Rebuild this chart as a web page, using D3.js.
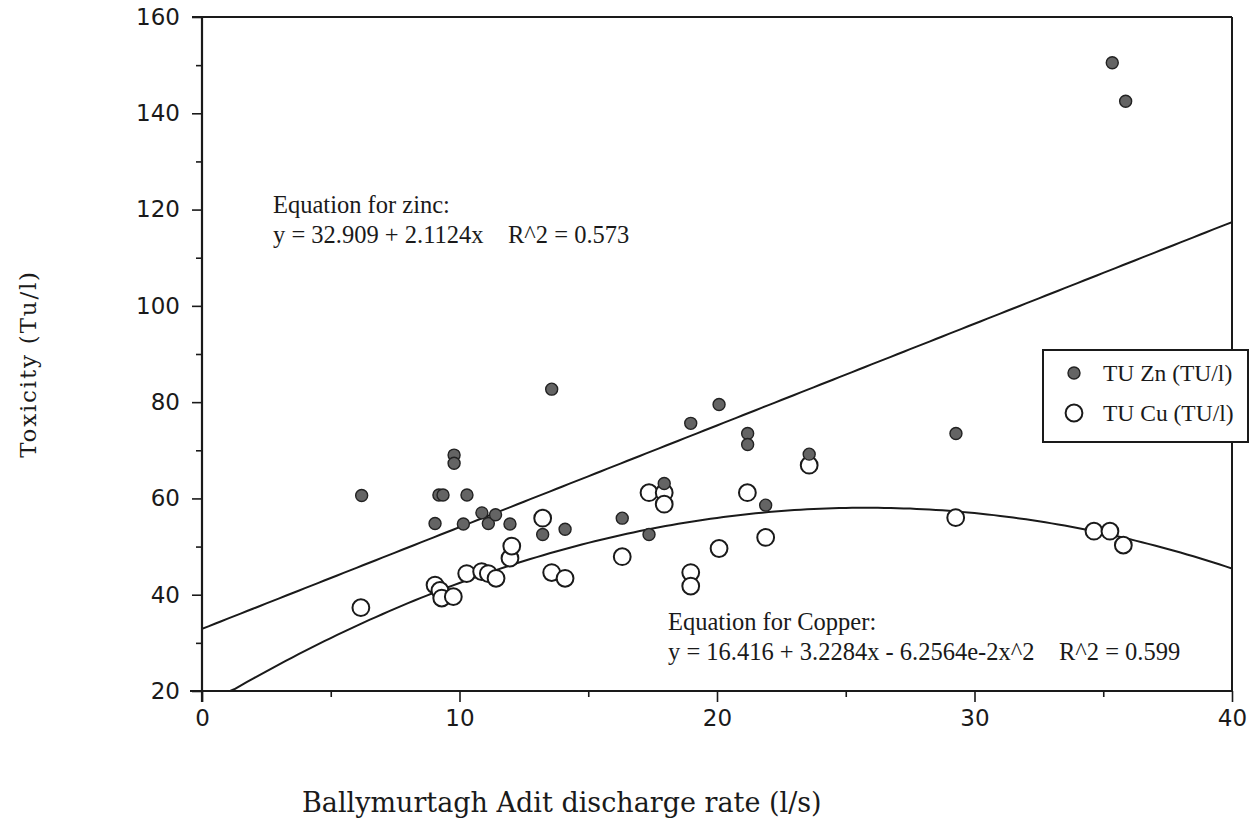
<!DOCTYPE html>
<html><head><meta charset="utf-8">
<script src="https://cdn.jsdelivr.net/npm/d3@7"></script>
<style>body{margin:0;background:#fff}svg{display:block}</style>
</head><body>
<svg id="c" width="1254" height="825"></svg>
<script>
// ---- data ----
const znX = [6.20, 9.05, 9.20, 9.36, 9.79, 9.79, 10.15, 10.29, 10.87, 11.12, 11.40, 11.96, 13.23, 13.58, 14.10, 16.32, 17.36, 17.95, 18.98, 20.08, 21.19, 21.19, 21.89, 23.58, 29.28, 35.35, 35.87];
const znY = [60.6, 54.8, 60.7, 60.7, 69.0, 67.3, 54.7, 60.7, 57.0, 54.8, 56.6, 54.7, 52.5, 82.7, 53.6, 55.9, 52.5, 63.1, 75.6, 79.5, 73.5, 71.2, 58.6, 69.2, 73.5, 150.5, 142.5];
const cuX = [6.17, 9.05, 9.24, 9.31, 9.76, 10.28, 10.86, 11.12, 11.42, 11.96, 12.03, 13.23, 13.58, 14.10, 16.32, 17.36, 17.95, 17.95, 18.98, 18.98, 20.08, 21.18, 21.89, 23.58, 29.27, 34.64, 35.26, 35.78];
const cuY = [37.3, 42.0, 40.9, 39.3, 39.6, 44.4, 44.8, 44.4, 43.4, 47.6, 50.1, 55.9, 44.6, 43.4, 47.9, 61.2, 61.2, 58.8, 44.6, 41.8, 49.6, 61.2, 51.9, 66.9, 56.0, 53.2, 53.2, 50.3];
// fitted equations shown on the chart (coefficients as printed)
const zincFit = [32.909, 2.1124];
const copperFit = [16.416, 3.2284, -6.2564e-2];
const xTicks = [0, 10, 20, 30, 40];
const xMinor = [5, 15, 25, 35];
const yTicks = [20, 40, 60, 80, 100, 120, 140, 160];
const yMinor = [30, 50, 70, 90, 110, 130, 150];
const legendLabels = ["TU Zn (TU/l)", "TU Cu (TU/l)"];
const zincText = ["Equation for zinc:", "y = 32.909 + 2.1124x    R^2 = 0.573"];
const copperText = ["Equation for Copper:", "y = 16.416 + 3.2284x - 6.2564e-2x^2    R^2 = 0.599"];
const xTitle = "Ballymurtagh Adit discharge rate (l/s)";
const yTitle = "Toxicity (Tu/l)";

// ---- layout ----
const L = 202, R = 1232, T = 17, B = 691;
const svg = d3.select("#c");
const x = d3.scaleLinear().domain([0, 40]).range([L, R]);
const y = d3.scaleLinear().domain([20, 160]).range([B, T]);
const ink = "#1a1a1a";

svg.append("defs").append("clipPath").attr("id", "plot")
  .append("rect").attr("x", L).attr("y", T).attr("width", R - L).attr("height", B - T);

// frame (top & right)
svg.append("line").attr("x1", L - 10).attr("x2", R).attr("y1", T).attr("y2", T).attr("stroke", ink).attr("stroke-width", 2);
svg.append("line").attr("x1", R).attr("x2", R).attr("y1", T).attr("y2", B).attr("stroke", ink).attr("stroke-width", 2);

// axes
function styleAxis(g) {
  g.select(".domain").attr("stroke", ink).attr("stroke-width", 2.2);
  g.selectAll(".tick line").attr("stroke", ink).attr("stroke-width", 1.6);
  g.selectAll(".tick text").attr("fill", ink).attr("font-family", "DejaVu Sans").attr("font-size", 23);
}
const gx = svg.append("g").attr("transform", `translate(0,${B})`)
  .call(d3.axisBottom(x).tickValues(xTicks).tickSize(11).tickSizeOuter(0).tickPadding(8).tickFormat(d3.format("d")));
styleAxis(gx);
gx.select(".domain").attr("d", `M${L - 12},0H${R}`);
const gxm = svg.append("g").attr("transform", `translate(0,${B})`)
  .call(d3.axisBottom(x).tickValues(xMinor).tickSize(6).tickFormat(""));
gxm.select(".domain").remove();
gxm.selectAll(".tick line").attr("stroke", ink).attr("stroke-width", 1.6);

const gy = svg.append("g").attr("transform", `translate(${L},0)`)
  .call(d3.axisLeft(y).tickValues(yTicks).tickSize(10).tickSizeOuter(0).tickPadding(12).tickFormat(d3.format("d")));
styleAxis(gy);
gy.select(".domain").attr("d", `M0,${T}V${B + 11}`);
const gym = svg.append("g").attr("transform", `translate(${L},0)`)
  .call(d3.axisLeft(y).tickValues(yMinor).tickSize(6).tickFormat(""));
gym.select(".domain").remove();
gym.selectAll(".tick line").attr("stroke", ink).attr("stroke-width", 1.6);

// fit lines
const plot = svg.append("g").attr("clip-path", "url(#plot)");
const xs = d3.range(0, 40.001, 0.25);
const lineGen = d3.line().x(d => x(d[0])).y(d => y(d[1]));
plot.append("path").datum(xs.map(v => [v, zincFit[0] + zincFit[1] * v]))
  .attr("d", lineGen).attr("fill", "none").attr("stroke", ink).attr("stroke-width", 2);
plot.append("path").datum(xs.map(v => [v, Math.max(19.8, copperFit[0] + copperFit[1] * v + copperFit[2] * v * v)]))
  .attr("d", lineGen).attr("fill", "none").attr("stroke", ink).attr("stroke-width", 2);

// points
svg.append("g").selectAll("circle").data(cuX.map((v, i) => [v, cuY[i]])).join("circle")
  .attr("cx", d => x(d[0])).attr("cy", d => y(d[1])).attr("r", 8.4)
  .attr("fill", "#fff").attr("stroke", ink).attr("stroke-width", 2);
svg.append("g").selectAll("circle").data(znX.map((v, i) => [v, znY[i]])).join("circle")
  .attr("cx", d => x(d[0])).attr("cy", d => y(d[1])).attr("r", 6)
  .attr("fill", "#646464").attr("stroke", "#222").attr("stroke-width", 1.4);

// equation texts
const serif = "Liberation Serif, Times New Roman, serif";
function block(lines, x0, y0) {
  const t = svg.append("text").attr("font-family", serif).attr("font-size", 24.5).attr("fill", ink)
    .attr("xml:space", "preserve");
  lines.forEach((s, i) => t.append("tspan").attr("x", x0).attr("y", y0 + i * 30).text(s));
}
block(zincText, 273, 213);
block(copperText, 668, 630);

// legend
const lg = svg.append("g");
lg.append("rect").attr("x", 1043).attr("y", 350).attr("width", 205).attr("height", 92)
  .attr("fill", "#fff").attr("stroke", ink).attr("stroke-width", 2);
lg.append("circle").attr("cx", 1074).attr("cy", 373).attr("r", 6).attr("fill", "#646464").attr("stroke", "#222").attr("stroke-width", 1.4);
lg.append("circle").attr("cx", 1074).attr("cy", 413).attr("r", 8.4).attr("fill", "#fff").attr("stroke", ink).attr("stroke-width", 2);
legendLabels.forEach((s, i) => lg.append("text").attr("x", 1103).attr("y", 381 + i * 40)
  .attr("font-family", serif).attr("font-size", 23.5).attr("fill", ink).text(s));

// axis titles
svg.append("text").attr("x", 302).attr("y", 812).attr("font-family", "DejaVu Serif").attr("font-size", 27)
  .attr("fill", ink).text(xTitle);
svg.append("text").attr("transform", "translate(36,364) rotate(-90)").attr("text-anchor", "middle")
  .attr("font-family", "DejaVu Serif").attr("font-size", 23).attr("letter-spacing", 1.8)
  .attr("fill", ink).text(yTitle);
</script>
</body></html>
